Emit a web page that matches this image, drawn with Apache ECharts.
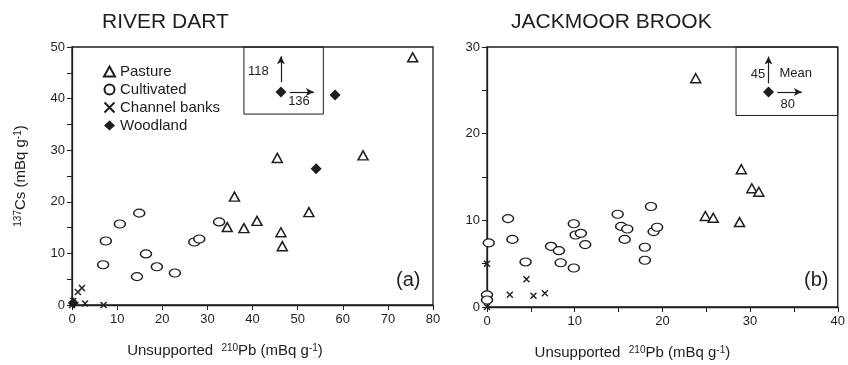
<!DOCTYPE html>
<html>
<head>
<meta charset="utf-8">
<script src="https://cdn.jsdelivr.net/npm/echarts@6/dist/echarts.min.js"></script>
<style>
  html, body { margin: 0; padding: 0; background: #fff; }
  #main { width: 848px; height: 365px; }
</style>
</head>
<body>
<div id="main"></div>
<script>
// River Dart (a)
const dartPasture = [[75.5, 48], [45.5, 28.5], [64.5, 29], [36, 21], [34.4, 15.1], [38.1, 14.9], [41, 16.3], [46.3, 14.1], [46.6, 11.4], [52.5, 18]];
const dartCultivated = [[7.5, 12.4], [6.9, 7.8], [10.6, 15.7], [14.9, 17.8], [16.4, 9.9], [14.4, 5.5], [18.8, 7.4], [22.8, 6.2], [27.1, 12.2], [28.2, 12.8], [32.6, 16.1]];
const dartChannel = [[0, 0], [0.3, 0.8], [1.3, 2.5], [2.2, 3.3], [2.9, 0.3], [7, 0]];
const dartWoodland = [[58.3, 40.7], [54.1, 26.4], [0.3, 0.4]];
const dartMean = [46.3, 41.3];
const dartMeanText = ["136", "118"];

// Jackmoor Brook (b)
const jackPasture = [[23.8, 26.4], [29, 15.9], [30.2, 13.7], [31, 13.3], [24.9, 10.5], [25.8, 10.3], [28.8, 9.8]];
const jackCultivated = [[0.2, 7.4], [2.4, 10.2], [2.9, 7.8], [4.4, 5.2], [7.3, 7.0], [8.2, 6.5], [8.4, 5.1], [9.9, 9.6], [10.1, 8.3], [10.7, 8.5], [11.2, 7.2], [9.9, 4.5], [14.9, 10.7], [15.3, 9.3], [16.0, 9.0], [15.7, 7.8], [18.0, 6.9], [18.0, 5.4], [18.7, 11.6], [19.0, 8.7], [19.4, 9.2], [0, 1.4], [0, 0.8]];
const jackChannel = [[0, 5], [0, 0], [2.6, 1.4], [4.5, 3.2], [5.3, 1.3], [6.6, 1.6]];
const jackMean = [32.1, 24.8];
const jackMeanText = ["80", "45"];

const dartXTicks = { min: 0, max: 80, interval: 10 };
const dartYTicks = { min: 0, max: 50, interval: 5 };
const jackXTicks = { min: 0, max: 40, interval: 5 };
const jackYTicks = { min: 0, max: 30, interval: 5 };

const ink = "#1e1e1e";
const font = "Liberation Sans, Arial, sans-serif";
const cross = "path://M0,0L10,10M10,0L0,10";

const rich = {
  a: { fontSize: 15, color: ink, fontFamily: font },
  s: { fontSize: 10, color: ink, fontFamily: font, verticalAlign: "top", lineHeight: 10 }
};

function axisX(t, idx, pad) {
  return {
    type: "value", gridIndex: idx, min: t.min, max: t.max, interval: t.interval,
    splitLine: { show: false },
    axisLine: { lineStyle: { color: ink, width: 1.3 } },
    axisTick: { inside: false, length: 5, lineStyle: { color: ink } },
    axisLabel: {
      color: ink, fontSize: 13, fontFamily: font, margin: 8,
      formatter: v => (v % 10 === 0 ? v : "")
    },
    name: "{a|Unsupported  }{s|210}{a|Pb (mBq g}{s|-1}{a|)}",
    nameLocation: "middle", nameGap: 38,
    nameTextStyle: { rich: rich, padding: [0, pad, 0, 0] }
  };
}

function axisY(t, idx, withName) {
  const ax = {
    type: "value", gridIndex: idx, min: t.min, max: t.max, interval: t.interval,
    splitLine: { show: false },
    axisLine: { lineStyle: { color: ink, width: 1.3 } },
    axisTick: { inside: false, length: 5, lineStyle: { color: ink } },
    axisLabel: {
      color: ink, fontSize: 13, fontFamily: font, margin: 7,
      formatter: v => (v % 10 === 0 ? v : "")
    }
  };
  if (withName) {
    ax.name = "{s|137}{a|Cs (mBq g}{s|-1}{a|)}";
    ax.nameLocation = "middle";
    ax.nameGap = 44;
    ax.nameTextStyle = { rich: rich };
  }
  return ax;
}

function pts(name, data, idx) {
  const base = { name: name, type: "scatter", data: data, xAxisIndex: idx, yAxisIndex: idx, z: 3 };
  if (name === "Pasture") {
    Object.assign(base, { symbol: "triangle", symbolSize: [10, 9], itemStyle: { color: "#fff", borderColor: ink, borderWidth: 1.5, opacity: 1 } });
  } else if (name === "Cultivated") {
    Object.assign(base, { symbol: "circle", symbolSize: [11, 8], itemStyle: { color: "#fff", borderColor: ink, borderWidth: 1.3, opacity: 1 } });
  } else if (name === "Channel banks") {
    Object.assign(base, { symbol: cross, symbolSize: 6, itemStyle: { color: "none", borderColor: ink, borderWidth: 1.4, opacity: 1 } });
  } else {
    Object.assign(base, { symbol: "diamond", symbolSize: [11, 11], itemStyle: { color: ink, opacity: 1 } });
  }
  return base;
}

function txt(coord, text, align) {
  return {
    coord: coord, symbol: "circle", symbolSize: 1, itemStyle: { color: "transparent" },
    label: { show: true, formatter: text, position: "inside", align: align || "center", color: ink, fontSize: 13, fontFamily: font }
  };
}

function inset(mean, box, up, right, labels, idx) {
  return {
    name: "mean", type: "scatter", data: [mean], xAxisIndex: idx, yAxisIndex: idx,
    symbol: "diamond", symbolSize: [11, 11], itemStyle: { color: ink, opacity: 1 }, z: 4,
    markArea: {
      silent: true,
      itemStyle: { color: "transparent", borderColor: ink, borderWidth: 1 },
      data: [[{ coord: box[0] }, { coord: box[1] }]]
    },
    markLine: {
      silent: true, symbol: ["none", "arrow"], symbolSize: [6, 8],
      lineStyle: { color: ink, width: 1.2, type: "solid" },
      label: { show: false },
      data: [
        [{ coord: up[0] }, { coord: up[1] }],
        [{ coord: right[0] }, { coord: right[1] }]
      ]
    },
    markPoint: { silent: true, data: labels }
  };
}

const chart = echarts.init(document.getElementById("main"));
chart.setOption({
  animation: false,
  title: [
    { text: "RIVER DART", left: 97, top: 7, textStyle: { fontSize: 21, fontWeight: "normal", color: ink, fontFamily: font } },
    { text: "JACKMOOR BROOK", left: 506, top: 7, textStyle: { fontSize: 21, fontWeight: "normal", color: ink, fontFamily: font } }
  ],
  grid: [
    { left: 72, top: 47, width: 361, height: 258, show: true, borderColor: ink, borderWidth: 1.3 },
    { left: 487, top: 47, width: 356, height: 260, show: true, borderColor: ink, borderWidth: 1.3 }
  ],
  legend: {
    data: ["Pasture", "Cultivated", "Channel banks", "Woodland"],
    orient: "vertical", left: 97, top: 59, itemGap: 3, itemWidth: 11, itemHeight: 10,
    textStyle: { color: ink, fontSize: 15, fontFamily: font },
    selectedMode: false
  },
  xAxis: [axisX(dartXTicks, 0, 55), axisX(jackXTicks, 1, 60)],
  yAxis: [axisY(dartYTicks, 0, true), axisY(jackYTicks, 1, false)],
  graphic: [
    { type: "text", left: 396, top: 270, style: { text: "(a)", fontSize: 20, fill: ink, fontFamily: font } },
    { type: "text", left: 804, top: 270, style: { text: "(b)", fontSize: 20, fill: ink, fontFamily: font } }
  ],
  series: [
    pts("Pasture", dartPasture, 0),
    pts("Cultivated", dartCultivated, 0),
    pts("Channel banks", dartChannel, 0),
    pts("Woodland", dartWoodland, 0),
    inset(dartMean, [[38.1, 37], [55.7, 50]],
      [[46.3, 43.2], [46.3, 48.2]], [[48.3, 41.3], [53.6, 41.3]],
      [txt([41.3, 45.3], dartMeanText[1]), txt([50.3, 39.4], dartMeanText[0])], 0),
    pts("Pasture", jackPasture, 1),
    pts("Cultivated", jackCultivated, 1),
    pts("Channel banks", jackChannel, 1),
    inset(jackMean, [[28.4, 22.1], [40, 30]],
      [[32.1, 25.8], [32.1, 28.9]], [[33.1, 24.8], [35.9, 24.8]],
      [txt([30.9, 26.8], jackMeanText[1]), txt([35.2, 26.9], "Mean"), txt([34.3, 23.4], jackMeanText[0])], 1)
  ]
});
</script>
</body>
</html>
